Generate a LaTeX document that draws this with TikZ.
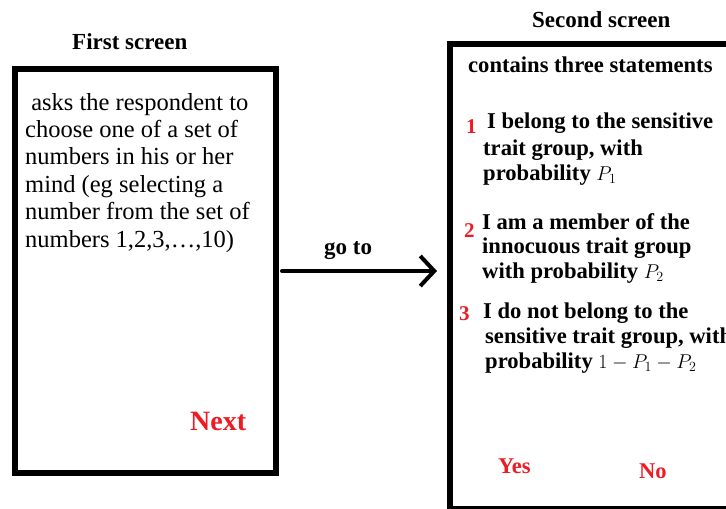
\RequirePackage{fix-cm}
\documentclass[tikz,border=0pt]{standalone}
\usepackage{fontspec}
\setmainfont{Liberation Serif}
\usepackage{xcolor}
\usetikzlibrary{arrows.meta}
\usetikzlibrary{positioning}
\definecolor{btnred}{RGB}{237,28,36}

\tikzset{
    plain/.style={anchor=base west, inner sep=0pt, font=\fontsize{24.5}{27}\selectfont},
    stmt/.style={anchor=base west, inner sep=0pt, font=\fontsize{22.6}{26}\selectfont\bfseries},
    heading/.style={anchor=base west, inner sep=0pt, font=\fontsize{23}{26}\selectfont\bfseries},
    num/.style={anchor=base west, inner sep=0pt, text=btnred, font=\fontsize{21}{24}\selectfont\bfseries},
    button/.style={anchor=base west, inner sep=0pt, text=btnred, font=\fontsize{22.5}{26}\selectfont\bfseries},
    screen/.style={draw, line width=6pt, anchor=north west, inner sep=0pt},
}
\newcommand{\smallmath}[1]{{\fontsize{20}{22}\selectfont$#1$}}

\begin{document}
\begin{tikzpicture}[x=1pt,y=-1pt]
        \useasboundingbox (0,0) rectangle (726,509);
        \clip (0,0) rectangle (726,509);
        % the two screens
        \node[screen, minimum width=261pt, minimum height=404pt] (screen1) at (12,66) {};
        \node[screen, minimum width=320pt, minimum height=465pt] (screen2) at (447,40.5) {};
        \node[heading] (title1) at (72,49) {First screen};
        \node[heading] (title2) at (532,27) {Second screen};
        % first screen
        \node[plain] (q1) at (25,110) {\ asks the respondent to};
        \node[plain] (q2) at (25,137.4) {choose one of a set of};
        \node[plain] (q3) at (25,164.8) {numbers in his or her};
        \node[plain] (q4) at (25,192.2) {mind (eg selecting a};
        \node[plain] (q5) at (25,219.6) {number from the set of};
        \node[plain] (q6) at (25,247) {numbers 1,2,3,…,10)};
        \node[button, font=\fontsize{28}{30}\selectfont\bfseries] (next) at (190,430) {Next};
        % go to
        \draw[line width=4pt, line cap=round, -{Straight Barb[length=14pt, width=30pt]}]
            ([xshift=3pt]screen1.east) -- ([xshift=-10pt]screen1.east -| screen2.west);
        \node[heading] (goto) at (324,254) {go to};
        % second screen
        \node[stmt] (intro) at (468,72) {contains three statements};
        \node[num] (n1) at (466,133) {1};
        \node[stmt] (s1a) at (487,128) {I belong to the sensitive};
        \node[stmt] (s1b) at (483,155) {trait group, with};
        \node[stmt] (s1c) at (483,180) {probability \smallmath{P_1}};
        \node[num] (n2) at (464,237) {2};
        \node[stmt] (s2a) at (482,229) {I am a member of the};
        \node[stmt] (s2b) at (482,253) {innocuous trait group};
        \node[stmt] (s2c) at (482,278) {with probability \smallmath{P_2}};
        \node[num] (n3) at (459,320) {3};
        \node[stmt] (s3a) at (483,318) {I do not belong to the};
        \node[stmt] (s3b) at (485,343) {sensitive trait group, with};
        \node[stmt] (s3c) at (485,368) {probability \smallmath{1-P_1-P_2}};
        \node[button] (yes) at (498,473) {Yes};
        \node[button] (no) at (639,478) {No};
    \end{tikzpicture}
\end{document}
